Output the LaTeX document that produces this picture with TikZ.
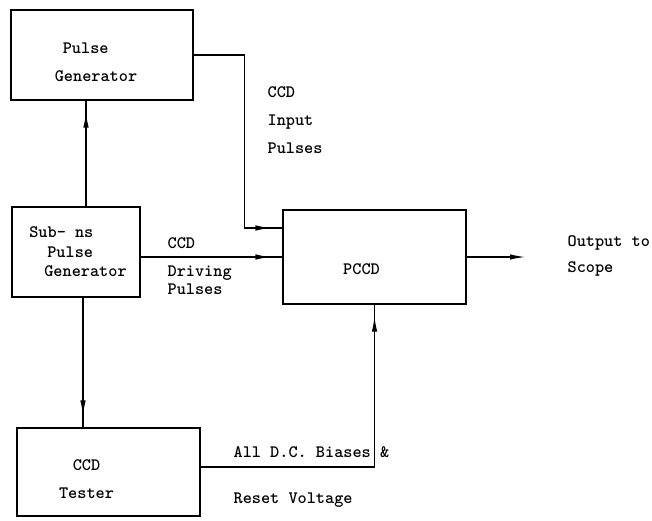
\documentclass[tikz,border=0pt]{standalone}
\usepackage{fontspec}
\usepackage{tikz}
\usetikzlibrary{arrows.meta,decorations.markings,positioning}

\begin{document}
\begin{tikzpicture}[x=1bp,y=-1bp,line width=1.2bp,
  box/.style={draw,inner sep=0pt},
  boxtxt/.style={inner sep=0pt,align=left,font=\ttfamily\bfseries\fontsize{17.5}{28}\selectfont},
  lbl/.style={inner sep=0pt,align=left,font=\ttfamily\bfseries\fontsize{17.5}{28}\selectfont},
  feed/.style={postaction={decorate},decoration={markings,
    mark=at position -12bp with {\arrow{Latex[length=15bp,width=5.5bp]}}}}]
  \useasboundingbox (0,0) rectangle (652,521);
  \node[box,minimum width=182bp,minimum height=90bp,
    label={[boxtxt,xshift=-6bp,yshift=-7bp]center:{\hspace*{8bp}Pulse\\Generator}}] (pgen) at (102,55) {};
  \node[box,minimum width=128bp,minimum height=90bp,
    label={[boxtxt,font=\ttfamily\bfseries\fontsize{17.5}{19.5}\selectfont,xshift=2bp]center:{Sub- ns\\\hspace*{18bp}Pulse\\\hspace*{15bp}Generator}}] (subns) at (76,252) {};
  \node[box,minimum width=183bp,minimum height=88bp,
    label={[boxtxt,align=center,xshift=-22bp,yshift=-7bp]center:{CCD\\Tester}}] (tester) at (108.5,472) {};
  \node[box,minimum width=183bp,minimum height=94bp,
    label={[boxtxt,xshift=-13bp,yshift=-12bp]center:PCCD}] (pccd) at (374.5,257) {};
  \coordinate (out) at (525,257);

  \draw[feed] ([xshift=10bp]subns.north) -- ([xshift=10bp]subns.north |- pgen.south);
  \draw[feed] ([xshift=7bp]subns.south) -- ([xshift=7bp]subns.south |- tester.north);
  \draw[feed] (pgen.east) -| ([xshift=-38bp,yshift=29bp]pccd.west) -- ([yshift=29bp]pccd.west);
  \draw[feed] (subns.east |- pccd.west) -- (pccd.west);
  \draw[feed] ([yshift=5bp]tester.east) -| (pccd.south);
  \draw[-{Latex[length=15bp,width=5.5bp]}] (pccd.east) -- (out);

  \node[lbl,anchor=west] (inlbl) at (267,120) {CCD\\Input\\Pulses};
  \node[lbl,anchor=west,font=\ttfamily\bfseries\fontsize{17.5}{18}\selectfont] (drvlbl) at (167,266) {CCD\\[10bp]Driving\\Pulses};
  \node[lbl,anchor=west,font=\ttfamily\bfseries\fontsize{17.5}{26}\selectfont] (outlbl) at (567,256) {Output to\\Scope};
  \node[lbl,anchor=west,font=\ttfamily\bfseries\fontsize{17.5}{46}\selectfont] (dclbl) at (233,477) {All D.C. Biases \&\\Reset Voltage};
\end{tikzpicture}
\end{document}
